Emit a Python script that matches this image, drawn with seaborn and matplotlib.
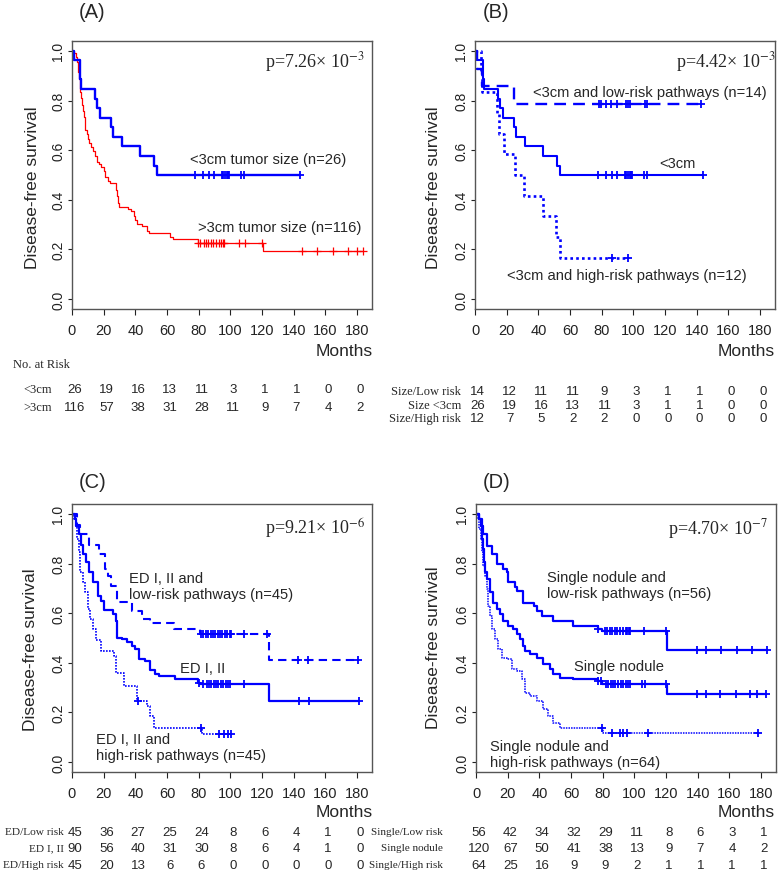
import numpy as np
import pandas as pd
import matplotlib
matplotlib.use("Agg")
import matplotlib.pyplot as plt
import matplotlib.transforms as mtransforms
import seaborn as sns

# ---------------- data ----------------
month_ticks = [0, 20, 40, 60, 80, 100, 120, 140, 160, 180]
surv_ticks = [0.0, 0.2, 0.4, 0.6, 0.8, 1.0]

# (A) tumour size
a_small_t = [0, 1.3, 4.8, 5.0, 5.5, 14.5, 15.6, 17.7, 24.6, 26, 31.6, 43, 52, 53.5]
a_small_s = [1.0, 0.962, 0.923, 0.885, 0.846, 0.808, 0.769, 0.731, 0.692, 0.654, 0.615, 0.577, 0.538, 0.5]
a_small_cens = [78, 83, 86.7, 90, 94.6, 95.6, 96.7, 97.7, 98.3, 99, 106.6, 108.5, 144]

a_large_t = [0, 1.5, 2.5, 3, 3.5, 4, 4.4, 4.8, 5.2, 5.8, 6.5, 7, 7.5, 8, 8.5, 9.2, 10, 11, 12,
             13.5, 14.5, 15.5, 17, 18.5, 20, 21, 22.5, 24, 27.5, 28, 28.5, 29.2, 30, 35.5,
             37.5, 39, 40, 41, 44, 47.5, 48.5, 62, 63.5, 79.5, 120.5]
a_large_s = [1.0, 0.991, 0.974, 0.957, 0.94, 0.914, 0.888, 0.862, 0.836, 0.81, 0.784, 0.759,
             0.733, 0.707, 0.681, 0.664, 0.647, 0.629, 0.612, 0.595, 0.578, 0.552, 0.543,
             0.534, 0.517, 0.491, 0.474, 0.466, 0.457, 0.44, 0.414, 0.388, 0.371, 0.362,
             0.353, 0.336, 0.319, 0.302, 0.293, 0.276, 0.267, 0.25, 0.241, 0.224, 0.195]
a_large_cens = [79.8, 80.9, 83.4, 84.7, 86.2, 87.8, 89.3, 91, 92.7, 94.2, 95.2, 96.1, 105.8,
                109.4, 119.8, 145.1, 154.5, 165, 174.5, 179.8, 184]

# (B) <3cm split by pathway risk
b_low_t = [0, 1.5, 4.5, 24.9]
b_low_s = [1.0, 0.929, 0.857, 0.786]
b_low_cens = [78.2, 79.5, 82.9, 86, 89.7, 95.2, 96.5, 97.8, 107.1, 108.4, 142.8]

b_high_t = [0, 3.6, 4.5, 13.8, 15.3, 18.5, 25.5, 31.2, 42.9, 51.4, 53.6]
b_high_s = [1.0, 0.917, 0.833, 0.75, 0.667, 0.583, 0.5, 0.417, 0.333, 0.25, 0.167]
b_high_cens = [86.5, 96.5]

# (C) ED I, II
c_low_t = [0, 3, 4.8, 11, 17.3, 21, 22.5, 24.5, 28.5, 38, 44, 49.5, 64.6, 80.6, 124.3]
c_low_s = [1.0, 0.956, 0.919, 0.875, 0.838, 0.78, 0.75, 0.711, 0.646, 0.61, 0.576, 0.56,
           0.538, 0.515, 0.412]
c_low_cens = [81.5, 83, 84.5, 86, 87.5, 89, 90.5, 92, 93.5, 95, 96.5, 98, 99.5, 100.5,
              108.7, 123.3, 143, 149.2, 180.4]

c_mid_t = [0, 1.7, 2.7, 4.2, 5.8, 6.9, 8.9, 11, 13.1, 16.2, 18.3, 20.4, 25.6, 27.6, 28.7,
           31.8, 34.9, 38, 40.1, 42.2, 46.4, 49.5, 52.6, 54.7, 65.1, 79.6, 80.6, 124.3]
c_mid_s = [1.0, 0.98, 0.95, 0.919, 0.875, 0.838, 0.805, 0.764, 0.724, 0.67, 0.65, 0.614,
           0.596, 0.569, 0.502, 0.495, 0.485, 0.468, 0.455, 0.415, 0.408, 0.371, 0.354,
           0.347, 0.336, 0.32, 0.314, 0.246]
c_mid_cens = [80, 83, 85, 86.5, 88, 89.5, 91, 92.5, 94, 95.5, 97, 98.5, 100, 108.7, 143.4,
              149.7, 181]

c_high_t = [0, 1, 2.3, 3.1, 4.2, 5.2, 6.9, 8.5, 10, 11.4, 13.1, 15.2, 18.3, 26.6, 27.6,
            32.8, 41.2, 47.4, 49.5, 51.5, 82.1]
c_high_s = [1.0, 0.978, 0.953, 0.9, 0.845, 0.764, 0.724, 0.684, 0.616, 0.576, 0.536, 0.491,
            0.448, 0.428, 0.36, 0.307, 0.246, 0.226, 0.186, 0.139, 0.112]
c_high_cens = [41.5, 81.3, 93.1, 96.2, 98.3, 100.4]

# (D) single nodule
d_low_t = [0, 2.1, 3.6, 4.6, 6.7, 9.9, 13.1, 17.3, 19.4, 20.4, 24.6, 25.7, 29.5, 36.8,
           38.3, 41.5, 48.8, 61.5, 77.3, 79.4, 120.4]
d_low_s = [1.0, 0.98, 0.95, 0.919, 0.872, 0.838, 0.798, 0.778, 0.764, 0.724, 0.704, 0.69,
           0.643, 0.63, 0.61, 0.59, 0.569, 0.549, 0.536, 0.529, 0.452]
d_low_cens = [77.3, 81.5, 83, 84.5, 86, 87.5, 89, 91, 93, 94.5, 95.5, 96.5, 97.3, 106, 120,
              139.4, 145.3, 154.7, 164.6, 174.1, 183.6]

d_mid_t = [0, 2.1, 2.9, 3.6, 4.2, 5.1, 5.9, 7.2, 8.8, 10.9, 13.1, 15.2, 17.3, 20.4, 23.6,
           25.7, 27.8, 29.5, 30.9, 34.1, 38.3, 42.5, 46.7, 48.8, 53.1, 61.5, 77.3, 79.4, 120.4]
d_mid_s = [1.0, 0.98, 0.95, 0.9, 0.859, 0.805, 0.764, 0.737, 0.684, 0.643, 0.616, 0.596,
           0.569, 0.549, 0.536, 0.515, 0.495, 0.468, 0.448, 0.435, 0.421, 0.394, 0.374,
           0.354, 0.34, 0.334, 0.327, 0.314, 0.273]
d_mid_cens = [77.3, 79, 82, 83.5, 85, 86.5, 88, 90, 91.5, 93, 94.5, 96, 97, 105, 106.5, 120,
              139.4, 145.3, 154, 164, 173, 177.5, 183]

d_high_t = [0, 1.5, 2.1, 2.9, 3.6, 4.6, 5.7, 6.7, 7.8, 8.8, 9.9, 12, 14.1, 16.2, 19.4, 22.5,
            25.7, 28.8, 30.9, 34.1, 38.3, 42.5, 45.7, 48.8, 53.1, 80.4]
d_high_s = [1.0, 0.98, 0.939, 0.9, 0.845, 0.791, 0.751, 0.697, 0.63, 0.59, 0.536, 0.495,
            0.455, 0.421, 0.415, 0.374, 0.367, 0.334, 0.28, 0.266, 0.246, 0.213, 0.186,
            0.159, 0.139, 0.118]
d_high_cens = [79.4, 85.7, 90.9, 93, 95.6, 108.8, 178.3]

# numbers at risk
a_risk_labels = ["<3cm", ">3cm"]
a_risk = [[26, 19, 16, 13, 11, 3, 1, 1, 0, 0],
          [116, 57, 38, 31, 28, 11, 9, 7, 4, 2]]
b_risk_labels = ["Size/Low risk", "Size <3cm", "Size/High risk"]
b_risk = [[14, 12, 11, 11, 9, 3, 1, 1, 0, 0],
          [26, 19, 16, 13, 11, 3, 1, 1, 0, 0],
          [12, 7, 5, 2, 2, 0, 0, 0, 0, 0]]
c_risk_labels = ["ED/Low risk", "ED I, II", "ED/High risk"]
c_risk = [[45, 36, 27, 25, 24, 8, 6, 4, 1, 0],
          [90, 56, 40, 31, 30, 8, 6, 4, 1, 0],
          [45, 20, 13, 6, 6, 0, 0, 0, 0, 0]]
d_risk_labels = ["Single/Low risk", "Single nodule", "Single/High risk"]
d_risk = [[56, 42, 34, 32, 29, 11, 8, 6, 3, 1],
          [120, 67, 50, 41, 38, 13, 9, 7, 4, 2],
          [64, 25, 16, 9, 9, 2, 1, 1, 1, 1]]

# ---------------- style ----------------
sns.set_theme(style="white")
plt.rcParams["font.family"] = ["Liberation Sans", "DejaVu Sans"]
plt.rcParams["mathtext.fontset"] = "stix"

BLUE = "#0000ff"
RED = "#ff0000"
W, H = 778, 878

fig = plt.figure(figsize=(W / 100, H / 100), dpi=100)


def px(x, y):
    return x / W, 1 - y / H


def km(ax, t, s, cens, color, lw, ls="-", mlw=1.3):
    t = list(t)
    s = list(s)
    end = max(cens[-1], t[-1])
    df = pd.DataFrame({"month": t + [end], "surv": s + [s[-1]]})
    sns.lineplot(data=df, x="month", y="surv", drawstyle="steps-post", estimator=None,
                 sort=False, color=color, linewidth=lw, linestyle=ls, ax=ax)
    idx = np.searchsorted(t, cens, side="right") - 1
    cy = np.array(s)[idx]
    sns.scatterplot(x=cens, y=cy, marker="+", s=36, color=color, linewidth=mlw,
                    ax=ax, legend=False, zorder=3)


def setup(ax):
    ax.set_xlim(0, 189.5)
    ax.set_ylim(-0.04, 1.04)
    ax.set_xticks(month_ticks)
    ax.set_xticklabels([str(m) for m in month_ticks])
    ax.set_yticks(surv_ticks)
    ax.set_yticklabels([f"{v:.1f}" for v in surv_ticks], rotation=90, va="center")
    ax.tick_params(axis="x", labelsize=10.5, length=4, width=0.8, pad=6, bottom=True, colors="#222")
    ax.tick_params(axis="y", labelsize=10, length=3, width=0.8, pad=2, left=True, colors="#222")
    for sp in ax.spines.values():
        sp.set_color("#555555")
        sp.set_linewidth(1.0)
    ax.set_xlabel("")
    ax.set_ylabel("")


def risk_table(ax, labels, rows, ys, lab_x, ha, lab_size=9):
    tr = mtransforms.blended_transform_factory(ax.transData, fig.transFigure)
    for lab, row, y in zip(labels, rows, ys):
        fig.text(lab_x / W, 1 - y / H, lab, ha=ha, va="center", fontsize=lab_size,
                 family="Liberation Serif")
        for m, n in zip(month_ticks, row):
            ax.text(m + 1.8, 1 - y / H, str(n), transform=tr, ha="center", va="center",
                    fontsize=9.5, clip_on=False)


rect_h = 268 / H
axA = fig.add_axes([72 / W, 1 - 310 / H, 300 / W, rect_h])
axB = fig.add_axes([475 / W, 1 - 310 / H, 300 / W, rect_h])
axC = fig.add_axes([72 / W, 1 - 773 / H, 300 / W, rect_h])
axD = fig.add_axes([476 / W, 1 - 773 / H, 300 / W, rect_h])

# (A)
km(axA, a_large_t, a_large_s, a_large_cens, RED, 0.9, mlw=0.9)
km(axA, a_small_t, a_small_s, a_small_cens, BLUE, 1.7)
# (B)
km(axB, a_small_t, a_small_s, a_small_cens, BLUE, 1.5)
km(axB, b_low_t, b_low_s, b_low_cens, BLUE, 1.7, ls=(0, (5, 3)))
km(axB, b_high_t, b_high_s, b_high_cens, BLUE, 1.9, ls=(0, (1, 1.2)))
# (C)
km(axC, c_low_t, c_low_s, c_low_cens, BLUE, 1.5, ls=(0, (4, 2.5)))
km(axC, c_mid_t, c_mid_s, c_mid_cens, BLUE, 1.6)
km(axC, c_high_t, c_high_s, c_high_cens, BLUE, 1.2, ls=(0, (1, 0.8)))
# (D)
km(axD, d_low_t, d_low_s, d_low_cens, BLUE, 1.6)
km(axD, d_mid_t, d_mid_s, d_mid_cens, BLUE, 1.6)
km(axD, d_high_t, d_high_s, d_high_cens, BLUE, 1.1, ls=(0, (1, 0.7)))

for ax in (axA, axB, axC, axD):
    setup(ax)

# panel letters
for lab, (x, y) in zip(["(A)", "(B)", "(C)", "(D)"], [(92, 12), (496, 12), (93, 483), (497, 483)]):
    fig.text(*px(x, y), lab, ha="center", va="center", fontsize=14.5)

# y labels
for x, y in [(33, 188), (433, 188), (31, 650), (433, 648)]:
    fig.text(*px(x, y), "Disease-free survival", rotation=90, ha="center", va="center",
             fontsize=12.5)

# Months
for x, y in [(373, 352), (775, 351), (373, 813), (775, 813)]:
    fig.text(*px(x, y), "Months", ha="right", va="center", fontsize=12.5)

# p-values
for x, y, txt in [(315, 62, "p=7.26\u00d7 10$^{-3}$"), (726, 62, "p=4.42\u00d7 10$^{-3}$"),
                  (315, 529, "p=9.21\u00d7 10$^{-6}$"), (718, 529, "p=4.70\u00d7 10$^{-7}$")]:
    fig.text(*px(x, y), txt, ha="center", va="center", fontsize=13,
             family="Liberation Serif")

# curve labels
curve_labels = [
    (190, 160, "<3cm tumor size (n=26)"),
    (198, 228, ">3cm tumor size (n=116)"),
    (533, 93, "<3cm and low-risk pathways (n=14)"),
    (659, 164, "<3cm"),
    (507, 276, "<3cm and high-risk pathways (n=12)"),
    (129, 587, "ED I, II and\nlow-risk pathways (n=45)"),
    (180, 669, "ED I, II"),
    (96, 748, "ED I, II and\nhigh-risk pathways (n=45)"),
    (547, 586, "Single nodule and\nlow-risk pathways (n=56)"),
    (574, 667, "Single nodule"),
    (490, 755, "Single nodule and\nhigh-risk pathways (n=64)"),
]
for x, y, txt in curve_labels:
    fig.text(*px(x, y), txt, ha="left", va="center", fontsize=10.6, linespacing=1.15)

# numbers at risk
fig.text(*px(13, 365), "No. at Risk", ha="left", va="center", fontsize=9,
         family="Liberation Serif")
risk_table(axA, a_risk_labels, a_risk, [390, 408], 23, "left")
risk_table(axB, b_risk_labels, b_risk, [392, 406, 419], 461, "right")
risk_table(axC, c_risk_labels, c_risk, [833, 849, 866], 64, "right", lab_size=8.2)
risk_table(axD, d_risk_labels, d_risk, [833, 849, 866], 443, "right", lab_size=8)

fig.savefig("out.png", dpi=100)
